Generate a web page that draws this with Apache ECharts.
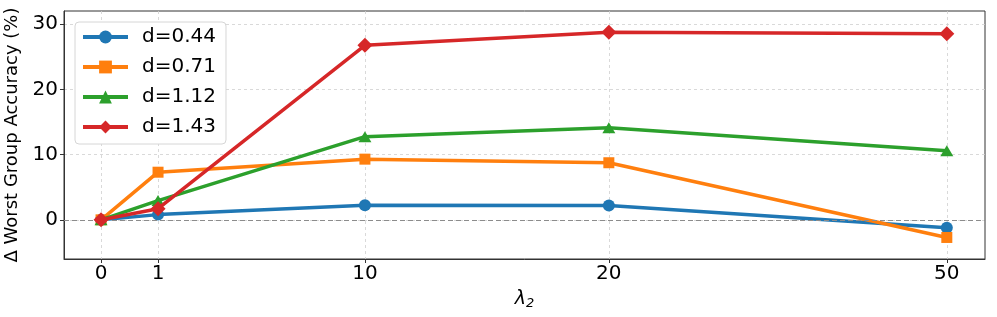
<!DOCTYPE html>
<html><head><meta charset="utf-8">
<script src="https://cdn.jsdelivr.net/npm/echarts@6/dist/echarts.min.js"></script>
<style>html,body{margin:0;padding:0;background:#fff}#c{width:997px;height:317px}</style>
</head><body><div id="c"></div>
<script>
// ---- data ----
const lambdas = [0, 1, 10, 20, 50];
const xTickLabels = ['0', '1', '10', '20', '50'];
const seriesNames = ['d=0.44', 'd=0.71', 'd=1.12', 'd=1.43'];
const d044 = [0, 0.8, 2.25, 2.2, -1.2];
const d071 = [0, 7.3, 9.3, 8.75, -2.7];
const d112 = [0, 2.95, 12.75, 14.1, 10.6];
const d143 = [0, 1.7, 26.75, 28.75, 28.5];
const yTicks = [0, 10, 20, 30];

// ---- non-uniform lambda scale of the reference (axis layout) ----
const scaleKnots = [0, 1, 4.63, 8.91, 14.84];
function warp(v) {
  for (let i = 0; i < lambdas.length - 1; i++) {
    if (v <= lambdas[i + 1]) {
      const t = (v - lambdas[i]) / (lambdas[i + 1] - lambdas[i]);
      return scaleKnots[i] + t * (scaleKnots[i + 1] - scaleKnots[i]);
    }
  }
  return scaleKnots[scaleKnots.length - 1];
}
const xTickPos = lambdas.map(warp);

const colors = ['#1f77b4', '#ff7f0e', '#2ca02c', '#d62728'];
const symbols = ['circle', 'rect', 'triangle', 'diamond'];
const symbolSizes = [12, 11, [13, 11], [15, 15]];
const allVals = [d044, d071, d112, d143];
const FONT = 'DejaVu Sans';

const series = allVals.map((vals, k) => ({
  name: seriesNames[k],
  type: 'line',
  data: lambdas.map((l, i) => [warp(l), vals[i]]),
  symbol: symbols[k],
  symbolSize: symbolSizes[k],
  showSymbol: true,
  lineStyle: { color: colors[k], width: 3.5 },
  itemStyle: { color: colors[k] },
  z: 3 + k,
  emphasis: { disabled: true }
}));
series[0].markLine = {
  silent: true, symbol: 'none', label: { show: false },
  lineStyle: { color: '#8c8c8c', type: [5, 3], width: 1.2 },
  data: [{ yAxis: 0 }]
};

const chart = echarts.init(document.getElementById('c'), null, { renderer: 'canvas' });
chart.setOption({
  animation: false,
  backgroundColor: '#fff',
  grid: { left: 64, right: 12, top: 11, bottom: 58, outerBoundsMode: 'none', containLabel: false,
          show: true, borderColor: '#333', borderWidth: 1 },
  legend: {
    orient: 'vertical', left: 75, top: 22,
    itemWidth: 45, itemHeight: 16, itemGap: 10,
    backgroundColor: '#fff', borderColor: '#d6d6d6', borderWidth: 1, borderRadius: 4,
    padding: [5, 10, 7, 6],
    lineStyle: { width: 4 },
    textStyle: { fontSize: 20, fontFamily: FONT, color: '#000', padding: [0, 0, 0, 9] },
    data: seriesNames
  },
  xAxis: {
    type: 'value', min: -0.65, max: 15.51,
    axisLine: { show: true, onZero: false, lineStyle: { color: '#333', width: 1 } },
    axisTick: { show: true, customValues: xTickPos, length: 4, lineStyle: { color: '#333' } },
    axisLabel: {
      customValues: xTickPos, fontSize: 20, fontFamily: FONT, color: '#000', margin: 5,
      formatter: v => { const i = xTickPos.findIndex(p => Math.abs(p - v) < 1e-6); return i >= 0 ? xTickLabels[i] : ''; }
    },
    splitLine: { show: true, lineStyle: { color: '#d0d0d0', type: [3, 3], width: 0.8 } },
    name: '{l|λ}{s|2}', nameLocation: 'middle', nameGap: 30,
    nameTextStyle: {
      rich: {
        l: { fontSize: 19, fontStyle: 'italic', fontFamily: FONT, color: '#000' },
        s: { fontSize: 13, fontStyle: 'italic', fontFamily: FONT, color: '#000', verticalAlign: 'bottom', padding: [8, 0, 0, 0] }
      }
    }
  },
  yAxis: {
    type: 'value', min: -6, max: 32,
    axisLine: { show: true, onZero: false, lineStyle: { color: '#333', width: 1 } },
    axisTick: { show: true, customValues: yTicks, length: 4, lineStyle: { color: '#333' } },
    axisLabel: { customValues: yTicks, fontSize: 20, fontFamily: FONT, color: '#000', margin: 6 },
    splitLine: { show: true, lineStyle: { color: '#d0d0d0', type: [3, 3], width: 0.8 } },
    name: 'Δ Worst Group Accuracy (%)', nameLocation: 'middle', nameGap: 40,
    nameTextStyle: { fontSize: 18, fontFamily: FONT, color: '#000' }
  },
  series: series
});
</script></body></html>
